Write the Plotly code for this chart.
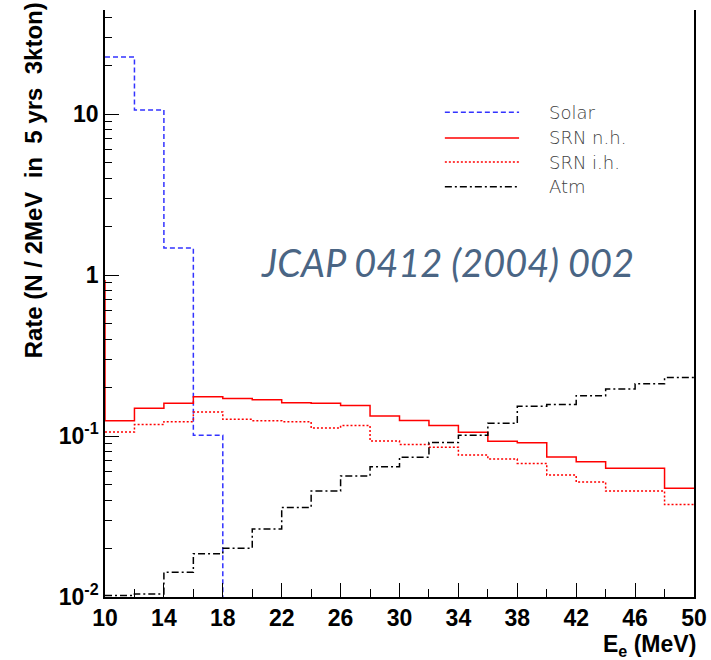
import plotly.graph_objects as go
import numpy as np

# ---------------- data ----------------
bin_edges = [10, 12, 14, 16, 18, 20, 22, 24, 26, 28, 30, 32, 34, 36, 38, 40, 42, 44, 46, 48, 50]
solar = [22.6, 10.6, 1.47, 0.101, 0, 0, 0, 0, 0, 0, 0, 0, 0, 0, 0, 0, 0, 0, 0, 0]
srn_nh = [0.1245, 0.1486, 0.1596, 0.1754, 0.171, 0.168, 0.161, 0.160, 0.1546, 0.133,
          0.125, 0.116, 0.1054, 0.0927, 0.0908, 0.0741, 0.0693, 0.063, 0.063, 0.0473]
srn_ih = [0.106, 0.1178, 0.1228, 0.141, 0.127, 0.1245, 0.1228, 0.112, 0.116, 0.093,
          0.0887, 0.0851, 0.0762, 0.072, 0.0676, 0.0572, 0.0518, 0.0455, 0.0455, 0.0375]
atm = [0.0102, 0.01045, 0.01424, 0.01858, 0.0201, 0.0264, 0.036, 0.0455, 0.0565, 0.0645,
       0.0738, 0.091, 0.101, 0.12, 0.153, 0.157, 0.178, 0.196, 0.211, 0.231]
srn_nh_left_start = 0.93

legend_names = ["Solar", "SRN n.h.", "SRN i.h.", "Atm"]
x_tick_vals = list(range(10, 51, 4))
y_tick_vals = [0.01, 0.1, 1, 10]
y_tick_text = ["10<sup>-2</sup>", "10<sup>-1</sup>", "1", "10"]
watermark = "JCAP 0412 (2004) 002"
y_title = "Rate (N / 2MeV  in  5 yrs  3kton)"
x_title = "E<sub>e</sub> (MeV)"

FLOOR = 1e-4  # zero counts drawn below the visible log range


def step_xy(values):
    v = [val if val > 0 else FLOOR for val in values]
    return bin_edges, v + [v[-1]]


colors = ["#3333ff", "#ff0000", "#ff0000", "#000000"]
dashes = ["5px,3px", "solid", "2px,2px", "7px,3px,2px,3px"]
series = [solar, srn_nh, srn_ih, atm]

fig = go.Figure()
for name, vals, col, dsh in zip(legend_names, series, colors, dashes):
    xs, ys = step_xy(vals)
    if name == "SRN n.h.":
        xs = [bin_edges[0]] + list(xs)
        ys = [srn_nh_left_start] + list(ys)
    fig.add_trace(go.Scatter(x=xs, y=ys, mode="lines", line_shape="hv",
                             line=dict(color=col, width=1.5, dash=dsh),
                             name=name, showlegend=False, hoverinfo="skip"))

minor_y = [m * d for d in [0.01, 0.1, 1, 10] for m in range(2, 10)]

fig.update_layout(
    width=711, height=660,
    margin=dict(l=105, r=17, t=10, b=63),
    plot_bgcolor="white", paper_bgcolor="white",
    showlegend=False,
    xaxis=dict(range=[10, 50], tickmode="array", tickvals=x_tick_vals, automargin=False,
               ticks="inside", ticklen=14, tickwidth=1, tickcolor="black",
               showline=True, linecolor="black", linewidth=1.5, mirror=False,
               showgrid=False, zeroline=False,
               tickfont=dict(family="Liberation Sans", size=23, color="black", weight="bold"),
               minor=dict(tickmode="array", tickvals=list(range(12, 50, 4)), ticks="inside",
                          ticklen=8, tickcolor="black", showgrid=False)),
    yaxis=dict(type="log", range=[-2, 1.646], tickmode="array", automargin=False,
               tickvals=y_tick_vals, ticktext=y_tick_text,
               ticks="inside", ticklen=14, tickwidth=1, tickcolor="black",
               showline=True, linecolor="black", linewidth=1.5, mirror=True,
               showgrid=False, zeroline=False,
               tickfont=dict(family="Liberation Sans", size=23, color="black", weight="bold"),
               minor=dict(tickmode="array", tickvals=minor_y, ticks="inside",
                          ticklen=7, tickcolor="black", showgrid=False)),
)

# axis titles
fig.add_annotation(text=y_title, xref="paper", yref="paper", x=-0.122, y=0.71,
                   textangle=-90, showarrow=False, xanchor="center", yanchor="middle",
                   font=dict(family="Liberation Sans", size=24, color="black", weight="bold"))
fig.add_annotation(text=x_title, xref="paper", yref="paper", x=1.006, y=-0.082,
                   showarrow=False, xanchor="right", yanchor="middle",
                   font=dict(family="Liberation Sans", size=23, color="black", weight="bold"))

# watermark
fig.add_annotation(text=watermark, xref="paper", yref="paper", x=0.5815, y=0.571,
                   showarrow=False, xanchor="center", yanchor="middle",
                   font=dict(family="Lato", size=38, color="#4a6584", style="italic"))

# manual legend
leg_rows = [0.826, 0.782, 0.741, 0.699]
for name, col, dsh, yy in zip(legend_names, colors, dashes, leg_rows):
    fig.add_shape(type="line", xref="paper", yref="paper", x0=0.577, x1=0.703, y0=yy, y1=yy,
                  line=dict(color=col, width=1.5, dash=dsh))
    fig.add_annotation(text=name, xref="paper", yref="paper", x=0.751, y=yy,
                       showarrow=False, xanchor="left", yanchor="middle",
                       font=dict(family="DejaVu Sans", size=18, color="#404040", weight=300))

fig.write_html("out.html")
